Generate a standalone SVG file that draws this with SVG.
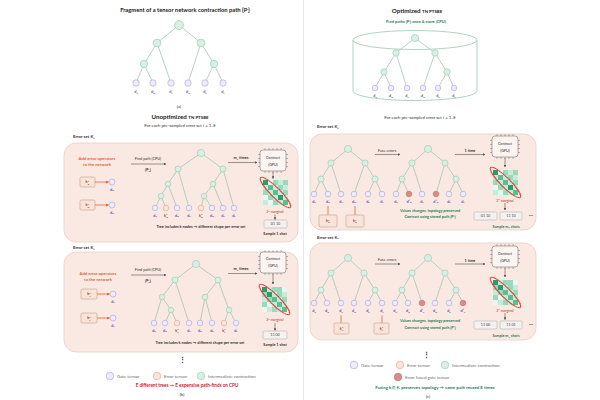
<svg xmlns="http://www.w3.org/2000/svg" xmlns:xlink="http://www.w3.org/1999/xlink" width="600" height="400" viewBox="0 0 600 400">
<style>
text{font-family:Lato,"Liberation Sans",Arial,sans-serif;}
.title{font-size:5.8px;font-weight:700;fill:#222;text-anchor:middle}
.sub{font-size:4.3px;fill:#333;text-anchor:middle}
.es{font-size:4.3px;font-weight:700;fill:#3b2a2a}
.box{fill:#f9e9e2;stroke:#e9cfc3;stroke-width:0.8}
.e{stroke:#a2c2b1;stroke-width:0.75;fill:none}
.ni{fill:#d7f0e4;stroke:#94c9ae;stroke-width:0.6}
.ng{fill:#eeecfa;stroke:#a79fdb;stroke-width:0.6}
.ne{fill:#fbe5da;stroke:#d6a38b;stroke-width:0.6}
.nf{fill:#d98c88;stroke:#c06b67;stroke-width:0.6}
.d{font-size:3.8px;font-weight:700;fill:#6152c0;text-anchor:middle}
.k{font-size:3.7px;font-weight:700;fill:#8a4a30;text-anchor:middle}
.sp{font-size:2.5px}
.or{font-size:4.2px;font-weight:700;fill:#e2662e;text-anchor:middle}
.gr{font-size:4px;font-weight:700;fill:#1f7a56;text-anchor:middle}
.rd{font-size:4.6px;font-weight:700;fill:#c3262b;text-anchor:middle}
.sm{font-size:3.8px;fill:#333;text-anchor:middle}
.smb{font-size:3.8px;font-weight:700;fill:#333;text-anchor:middle}
.lg{font-size:4.4px;fill:#6a6a6a}
.ebox{fill:#f8e4da;stroke:#c99a86;stroke-width:0.6}
.obox{fill:#f4f1ee;stroke:#a9a9a9;stroke-width:0.5}
.otx{font-size:3.7px;fill:#444;text-anchor:middle}
.arr{stroke:#555;stroke-width:0.6;fill:none;marker-end:url(#ah)}
.oarr{stroke:#e2662e;stroke-width:0.8;fill:none}
.marg{font-size:3.5px;fill:#a0442a;text-anchor:middle}
.chipt{font-size:3.7px;fill:#333;text-anchor:middle}
.c1{fill:#2f9a6b}.c2{fill:#5cbf92}.c3{fill:#9ad9bb}.c4{fill:#c6ebd8}.c5{fill:#e8f7ef}
</style>
<defs>
<marker id="ah" viewBox="0 0 6 6" refX="5" refY="3" markerUnits="userSpaceOnUse" markerWidth="2.6" markerHeight="2.6" orient="auto"><path d="M0,0L6,3L0,6z" fill="#555"/></marker>
<marker id="oah" viewBox="0 0 6 6" refX="5" refY="3" markerUnits="userSpaceOnUse" markerWidth="3" markerHeight="3" orient="auto"><path d="M0,0L6,3L0,6z" fill="#e2662e"/></marker>
<g id="chip">
<rect x="0" y="0" width="26" height="21" rx="3" fill="#fbf4f0" stroke="#777" stroke-width="0.6"/>
<path d="M5 0v-2M9 0v-2M13 0v-2M17 0v-2M21 0v-2M5 21v2M9 21v2M13 21v2M17 21v2M21 21v2M0 4.5h-2M0 8.5h-2M0 12.5h-2M0 16.5h-2M26 4.5h2M26 8.5h2M26 12.5h2M26 16.5h2" stroke="#777" stroke-width="0.5"/>
</g>
<g id="gridA">
<rect class="c1" x="0" y="0" width="5" height="5"/><rect class="c5" x="5" y="0" width="5" height="5"/><rect class="c3" x="10" y="0" width="5" height="5"/><rect class="c4" x="15" y="0" width="5" height="5"/><rect class="c3" x="20" y="0" width="5" height="5"/>
<rect class="c4" x="0" y="5" width="5" height="5"/><rect class="c2" x="5" y="5" width="5" height="5"/><rect class="c4" x="10" y="5" width="5" height="5"/><rect class="c3" x="15" y="5" width="5" height="5"/><rect class="c4" x="20" y="5" width="5" height="5"/>
<rect class="c3" x="0" y="10" width="5" height="5"/><rect class="c4" x="5" y="10" width="5" height="5"/><rect class="c2" x="10" y="10" width="5" height="5"/><rect class="c4" x="15" y="10" width="5" height="5"/><rect class="c3" x="20" y="10" width="5" height="5"/>
<rect class="c5" x="0" y="15" width="5" height="5"/><rect class="c3" x="5" y="15" width="5" height="5"/><rect class="c4" x="10" y="15" width="5" height="5"/><rect class="c1" x="15" y="15" width="5" height="5"/><rect class="c4" x="20" y="15" width="5" height="5"/>
<rect class="c4" x="0" y="20" width="5" height="5"/><rect class="c5" x="5" y="20" width="5" height="5"/><rect class="c3" x="10" y="20" width="5" height="5"/><rect class="c4" x="15" y="20" width="5" height="5"/><rect class="c2" x="20" y="20" width="5" height="5"/>
<ellipse cx="12.5" cy="12.5" rx="21" ry="4.8" transform="rotate(45 12.5 12.5)" fill="none" stroke="#e02424" stroke-width="1.1"/>
<ellipse cx="12.5" cy="12.5" rx="21" ry="4.8" transform="rotate(45 12.5 12.5)" fill="none" stroke="#fff" stroke-width="0.3" stroke-dasharray="1.5 1"/>
</g>
<g id="gridB">
<rect class="c1" x="0" y="0" width="5" height="5"/><rect class="c4" x="5" y="0" width="5" height="5"/><rect class="c3" x="10" y="0" width="5" height="5"/><rect class="c3" x="15" y="0" width="5" height="5"/><rect class="c5" x="20" y="0" width="5" height="5"/>
<rect class="c3" x="0" y="5" width="5" height="5"/><rect class="c1" x="5" y="5" width="5" height="5"/><rect class="c4" x="10" y="5" width="5" height="5"/><rect class="c3" x="15" y="5" width="5" height="5"/><rect class="c4" x="20" y="5" width="5" height="5"/>
<rect class="c4" x="0" y="10" width="5" height="5"/><rect class="c3" x="5" y="10" width="5" height="5"/><rect class="c2" x="10" y="10" width="5" height="5"/><rect class="c4" x="15" y="10" width="5" height="5"/><rect class="c3" x="20" y="10" width="5" height="5"/>
<rect class="c3" x="0" y="15" width="5" height="5"/><rect class="c5" x="5" y="15" width="5" height="5"/><rect class="c4" x="10" y="15" width="5" height="5"/><rect class="c2" x="15" y="15" width="5" height="5"/><rect class="c4" x="20" y="15" width="5" height="5"/>
<rect class="c5" x="0" y="20" width="5" height="5"/><rect class="c4" x="5" y="20" width="5" height="5"/><rect class="c3" x="10" y="20" width="5" height="5"/><rect class="c4" x="15" y="20" width="5" height="5"/><rect class="c2" x="20" y="20" width="5" height="5"/>
<ellipse cx="12.5" cy="12.5" rx="21" ry="4.8" transform="rotate(45 12.5 12.5)" fill="none" stroke="#e02424" stroke-width="1.1"/>
<ellipse cx="12.5" cy="12.5" rx="21" ry="4.8" transform="rotate(45 12.5 12.5)" fill="none" stroke="#fff" stroke-width="0.3" stroke-dasharray="1.5 1"/>
</g>
</defs>

<line x1="303.5" y1="0" x2="303.5" y2="400" stroke="#e2e2e2" stroke-width="0.8"/>

<!-- ===== (a) fragment ===== -->
<g id="panel-a">
<text class="title" x="185" y="12">Fragment of a tensor network contraction path {P<tspan class="sp" dy="-1.6">i</tspan><tspan dy="1.6">}</tspan></text>
<g id="a-edges">
<path class="e" d="M179 25L157 43M179 25L201 43M157 43L144 64M157 43L171 83M144 64L136 83M144 64L153 83M201 43L188 83M201 43L214 64M214 64L205 83M214 64L223 83"/>
</g>
<g id="a-nodes">
<circle class="ni" cx="179" cy="25" r="4.5"/><circle class="ni" cx="157" cy="43" r="3.9"/><circle class="ni" cx="201" cy="43" r="3.9"/><circle class="ni" cx="144" cy="64" r="3.7"/><circle class="ni" cx="214" cy="64" r="3.7"/>
<circle class="ng" cx="136" cy="83" r="3.2"/><circle class="ng" cx="153" cy="83" r="3.2"/><circle class="ng" cx="171" cy="83" r="3.2"/><circle class="ng" cx="188" cy="83" r="3.2"/><circle class="ng" cx="205" cy="83" r="3.2"/><circle class="ng" cx="223" cy="83" r="3.2"/>
</g>
<text class="d" x="136" y="93">d<tspan class="sp" dy="0.8">a</tspan></text>
<text class="d" x="153" y="93">d<tspan class="sp" dy="0.8">B</tspan></text>
<text class="d" x="171" y="93">d<tspan class="sp" dy="0.8">c</tspan></text>
<text class="d" x="188" y="93">d<tspan class="sp" dy="0.8">D</tspan></text>
<text class="d" x="205" y="93">d<tspan class="sp" dy="0.8">E</tspan></text>
<text class="d" x="223" y="93">d<tspan class="sp" dy="0.8">F</tspan></text>
<text class="sub" x="179" y="108">(a)</text>
</g>

<!-- ===== (b) unoptimized ===== -->
<g id="panel-b">
<text class="title" x="180" y="119" style="font-size:6.2px">Unoptimized <tspan style="font-size:4.4px">TN PTSBE</tspan></text>
<text class="sub" x="180" y="127">For each pre-sampled error set i = 1..E</text>

<!-- K1 -->
<text class="es" x="73" y="138">Error set K<tspan class="sp" dy="0.8">1</tspan></text>
<rect class="box" x="64" y="143" width="234" height="99" rx="12"/>
<text class="or" x="97" y="160">Add error operators</text>
<text class="or" x="97" y="166">to the network</text>
<g id="b1-errops">
<rect class="ebox" x="80" y="177" width="15" height="10" rx="1.5"/>
<text class="k" x="87.5" y="183.3">k<tspan class="sp" dy="-1.3">1</tspan><tspan class="sp" dx="-1.3" dy="2.6">B</tspan></text>
<line class="oarr" x1="95" y1="182" x2="108.5" y2="182" marker-end="url(#oah)"/>
<circle class="ng" cx="112" cy="182" r="3"/>
<text class="d" x="112" y="190.5">d<tspan class="sp" dy="0.8">B</tspan></text>
<rect class="ebox" x="80" y="200" width="15" height="10" rx="1.5"/>
<text class="k" x="87.5" y="206.3">k<tspan class="sp" dy="-1.3">1</tspan><tspan class="sp" dx="-1.3" dy="2.6">D</tspan></text>
<line class="oarr" x1="95" y1="205" x2="108.5" y2="205" marker-end="url(#oah)"/>
<circle class="ng" cx="112" cy="205" r="3"/>
<text class="d" x="112" y="213.5">d<tspan class="sp" dy="0.8">D</tspan></text>
</g>
<text class="sm" x="148" y="160">Find path (CPU)</text>
<line class="arr" x1="131" y1="164" x2="166" y2="164"/>
<text class="smb" x="148" y="171">{P<tspan class="sp" dy="-1.3">i</tspan><tspan class="sp" dx="-0.7" dy="2.4">1</tspan><tspan dy="-1.1">}</tspan></text>
<g id="b1-edges">
<path class="e" d="M201 153L178 169M201 153L223 169M178 169L168 184M178 169L189 208M168 184L161 196M168 184L177 208M161 196L155 208M161 196L166 208M223 169L213 184M223 169L234 208M213 184L204 196M213 184L223 208M204 196L201 208M204 196L212 208"/>
</g>
<g id="b1-nodes">
<circle class="ni" cx="201" cy="153" r="3.6"/><circle class="ni" cx="178" cy="169" r="3"/><circle class="ni" cx="223" cy="169" r="3"/><circle class="ni" cx="168" cy="184" r="2.8"/><circle class="ni" cx="213" cy="184" r="2.8"/><circle class="ni" cx="161" cy="196" r="2.8"/><circle class="ni" cx="204" cy="196" r="2.8"/>
<circle class="ng" cx="155" cy="208" r="2.8"/><circle class="ne" cx="166" cy="208" r="2.8"/><circle class="ng" cx="177" cy="208" r="2.8"/><circle class="ng" cx="189" cy="208" r="2.8"/><circle class="ne" cx="201" cy="208" r="2.8"/><circle class="ng" cx="212" cy="208" r="2.8"/><circle class="ng" cx="223" cy="208" r="2.8"/><circle class="ng" cx="234" cy="208" r="2.8"/>
</g>
<text class="d" x="155" y="216.5">d<tspan class="sp" dy="0.8">a</tspan></text>
<text class="k" x="166" y="216.5">k<tspan class="sp" dy="-1.3">1</tspan><tspan class="sp" dx="-1.3" dy="2.6">B</tspan></text>
<text class="d" x="177" y="216.5">d<tspan class="sp" dy="0.8">B</tspan></text>
<text class="d" x="189" y="216.5">d<tspan class="sp" dy="0.8">c</tspan></text>
<text class="k" x="201" y="216.5">k<tspan class="sp" dy="-1.3">1</tspan><tspan class="sp" dx="-1.3" dy="2.6">D</tspan></text>
<text class="d" x="212" y="216.5">d<tspan class="sp" dy="0.8">D</tspan></text>
<text class="d" x="223" y="216.5">d<tspan class="sp" dy="0.8">E</tspan></text>
<text class="d" x="234" y="216.5">d<tspan class="sp" dy="0.8">F</tspan></text>
<text class="smb" x="201" y="228">Tree includes k nodes → different shape per error set</text>
<text class="smb" x="241" y="159">m<tspan class="sp" dy="0.8">1</tspan><tspan dy="-0.8"> times</tspan></text>
<line class="arr" x1="228" y1="162.5" x2="257" y2="162.5"/>
<use xlink:href="#chip" href="#chip" x="260" y="150"/>
<text class="chipt" x="273" y="158.5">Contract</text>
<text class="chipt" x="273" y="165.5">(GPU)</text>
<line class="arr" x1="273" y1="172" x2="273" y2="178.5"/>
<use xlink:href="#gridA" href="#gridA" x="263" y="180"/>
<text class="marg" x="275" y="213">2<tspan class="sp" dy="-1.2">n</tspan><tspan dy="1.2"> marginal</tspan></text>
<line class="arr" x1="275" y1="214.5" x2="275" y2="219.5"/>
<rect class="obox" x="264" y="220" width="23" height="8" rx="1.2"/>
<text class="otx" x="275.5" y="225.3">01 10</text>
<text class="smb" x="275" y="234.5">Sample 1 shot</text>

<!-- K2 -->
<text class="es" x="73" y="249">Error set K<tspan class="sp" dy="0.8">2</tspan></text>
<rect class="box" x="64" y="252" width="234" height="100" rx="12"/>
<text class="or" x="98" y="275">Add error operators</text>
<text class="or" x="98" y="281">to the network</text>
<g id="b2-errops">
<rect class="ebox" x="81" y="289" width="16" height="10" rx="1.5"/>
<text class="k" x="89" y="295.3">k<tspan class="sp" dy="-1.3">2</tspan><tspan class="sp" dx="-1.3" dy="2.6">c</tspan></text>
<line class="oarr" x1="97" y1="294" x2="109.5" y2="294" marker-end="url(#oah)"/>
<circle class="ng" cx="113" cy="294" r="3"/>
<text class="d" x="113" y="302.5">d<tspan class="sp" dy="0.8">c</tspan></text>
<rect class="ebox" x="81" y="313" width="16" height="10" rx="1.5"/>
<text class="k" x="89" y="319.3">k<tspan class="sp" dy="-1.3">2</tspan><tspan class="sp" dx="-1.3" dy="2.6">F</tspan></text>
<line class="oarr" x1="97" y1="318" x2="109.5" y2="318" marker-end="url(#oah)"/>
<circle class="ng" cx="113" cy="318" r="3"/>
<text class="d" x="113" y="326.5">d<tspan class="sp" dy="0.8">F</tspan></text>
</g>
<text class="sm" x="148" y="271">Find path (CPU)</text>
<line class="arr" x1="131" y1="275" x2="166" y2="275"/>
<text class="smb" x="148" y="282">{P<tspan class="sp" dy="-1.3">i</tspan><tspan class="sp" dx="-0.7" dy="2.4">2</tspan><tspan dy="-1.1">}</tspan></text>
<g id="b2-edges">
<path class="e" d="M196 264L175 280M196 264L218 280M175 280L162 297M175 280L189 323M162 297L154 323M162 297L171 310M171 310L165 323M171 310L177 323M218 280L205 297M218 280L229 310M205 297L200 323M205 297L212 323M229 310L224 323M229 310L236 323"/>
</g>
<g id="b2-nodes">
<circle class="ni" cx="196" cy="264" r="3.6"/><circle class="ni" cx="175" cy="280" r="3"/><circle class="ni" cx="218" cy="280" r="3"/><circle class="ni" cx="162" cy="297" r="2.8"/><circle class="ni" cx="205" cy="297" r="2.8"/><circle class="ni" cx="171" cy="310" r="2.8"/><circle class="ni" cx="229" cy="310" r="2.8"/>
<circle class="ng" cx="154" cy="323" r="2.8"/><circle class="ng" cx="165" cy="323" r="2.8"/><circle class="ne" cx="177" cy="323" r="2.8"/><circle class="ng" cx="189" cy="323" r="2.8"/><circle class="ng" cx="200" cy="323" r="2.8"/><circle class="ng" cx="212" cy="323" r="2.8"/><circle class="ne" cx="224" cy="323" r="2.8"/><circle class="ng" cx="236" cy="323" r="2.8"/>
</g>
<text class="d" x="154" y="331.5">d<tspan class="sp" dy="0.8">a</tspan></text>
<text class="d" x="165" y="331.5">d<tspan class="sp" dy="0.8">B</tspan></text>
<text class="k" x="177" y="331.5">k<tspan class="sp" dy="-1.3">2</tspan><tspan class="sp" dx="-1.3" dy="2.6">c</tspan></text>
<text class="d" x="189" y="331.5">d<tspan class="sp" dy="0.8">c</tspan></text>
<text class="d" x="200" y="331.5">d<tspan class="sp" dy="0.8">D</tspan></text>
<text class="d" x="212" y="331.5">d<tspan class="sp" dy="0.8">E</tspan></text>
<text class="k" x="224" y="331.5">k<tspan class="sp" dy="-1.3">2</tspan><tspan class="sp" dx="-1.3" dy="2.6">F</tspan></text>
<text class="d" x="236" y="331.5">d<tspan class="sp" dy="0.8">F</tspan></text>
<text class="smb" x="200" y="344">Tree includes k nodes → different shape per error set</text>
<text class="smb" x="241" y="270">m<tspan class="sp" dy="0.8">2</tspan><tspan dy="-0.8"> times</tspan></text>
<line class="arr" x1="228" y1="273.5" x2="257" y2="273.5"/>
<use xlink:href="#chip" href="#chip" x="260" y="252"/>
<text class="chipt" x="273" y="260">Contract</text>
<text class="chipt" x="273" y="267">(GPU)</text>
<line class="arr" x1="273" y1="274" x2="273" y2="284"/>
<use xlink:href="#gridB" href="#gridB" x="262" y="287"/>
<text class="marg" x="275" y="321">2<tspan class="sp" dy="-1.2">n</tspan><tspan dy="1.2"> marginal</tspan></text>
<line class="arr" x1="275" y1="323" x2="275" y2="330.5"/>
<rect class="obox" x="263" y="331" width="24" height="8" rx="1.2"/>
<text class="otx" x="275" y="336.3">11 00</text>
<text class="smb" x="275" y="345.5">Sample 1 shot</text>

<text x="182" y="362" style="font-size:7px;fill:#333;text-anchor:middle;font-weight:700">⋮</text>
<g id="b-legend">
<circle class="ng" cx="110" cy="376" r="3.8"/><text class="lg" x="117" y="377.6">Gate tensor</text>
<circle class="ne" cx="157" cy="376" r="3.8"/><text class="lg" x="164" y="377.6">Error tensor</text>
<circle class="ni" cx="201" cy="376" r="3.8"/><text class="lg" x="208" y="377.6">Intermediate contraction</text>
</g>
<text class="rd" x="187" y="387">E different trees → E expensive path-finds on CPU</text>
<text class="sub" x="182" y="396">(b)</text>
</g>

<!-- ===== (c) optimized ===== -->
<g id="panel-c">
<text class="title" x="417" y="13" style="font-size:6.2px">Optimized <tspan style="font-size:4.4px">TN PTSBE</tspan></text>
<text class="gr" x="416" y="23">Find paths {P<tspan class="sp" dy="-1.3">i</tspan><tspan dy="1.3">} once &amp; store (CPU)</tspan></text>
<g id="cylinder">
<ellipse cx="415" cy="40" rx="62" ry="9.5" fill="none" stroke="#8fbfa6" stroke-width="0.7"/>
<path d="M353 40V91A62 9.5 0 0 0 477 91V40" fill="none" stroke="#8fbfa6" stroke-width="0.7"/>
</g>
<g id="c0-edges">
<path class="e" d="M415 38L396 53M415 38L435 53M396 53L384 72M396 53L407 88M384 72L375 88M384 72L391 88M435 53L423 88M435 53L447 72M447 72L438 88M447 72L454 88"/>
</g>
<g id="c0-nodes">
<circle class="ni" cx="415" cy="38" r="3.6"/><circle class="ni" cx="396" cy="53" r="3.2"/><circle class="ni" cx="435" cy="53" r="3.2"/><circle class="ni" cx="384" cy="72" r="3.2"/><circle class="ni" cx="447" cy="72" r="3.2"/>
<circle class="ng" cx="375" cy="88" r="2.8"/><circle class="ng" cx="391" cy="88" r="2.8"/><circle class="ng" cx="407" cy="88" r="2.8"/><circle class="ng" cx="423" cy="88" r="2.8"/><circle class="ng" cx="438" cy="88" r="2.8"/><circle class="ng" cx="454" cy="88" r="2.8"/>
</g>
<text class="d" x="375" y="97">d<tspan class="sp" dy="0.8">a</tspan></text>
<text class="d" x="391" y="97">d<tspan class="sp" dy="0.8">B</tspan></text>
<text class="d" x="407" y="97">d<tspan class="sp" dy="0.8">c</tspan></text>
<text class="d" x="423" y="97">d<tspan class="sp" dy="0.8">D</tspan></text>
<text class="d" x="438" y="97">d<tspan class="sp" dy="0.8">E</tspan></text>
<text class="d" x="454" y="97">d<tspan class="sp" dy="0.8">F</tspan></text>
<text class="sub" x="420" y="118.5">For each pre-sampled error set i = 1..E</text>

<!-- K1 -->
<text class="es" x="317" y="128">Error set K<tspan class="sp" dy="0.8">1</tspan></text>
<rect class="box" x="310" y="134" width="226" height="96" rx="12"/>
<g id="c1-edges">
<path class="e" d="M348 149L331 163M348 149L365 163M331 163L321 179M331 163L341 194M321 179L314 194M321 179L328 194M365 163L354 194M365 163L375 179M375 179L368 194M375 179L382 194"/>
<path class="e" d="M428 149L412 163M428 149L445 163M412 163L402 179M412 163L422 194M402 179L396 194M402 179L409 194M445 163L436 194M445 163L456 179M456 179L449 194M456 179L463 194"/>
</g>
<g id="c1-nodes">
<circle class="ni" cx="348" cy="149" r="3.6"/><circle class="ni" cx="331" cy="163" r="3.1"/><circle class="ni" cx="365" cy="163" r="3.1"/><circle class="ni" cx="321" cy="179" r="3"/><circle class="ni" cx="375" cy="179" r="3"/>
<circle class="ng" cx="314" cy="194" r="2.8"/><circle class="ng" cx="328" cy="194" r="2.8"/><circle class="ng" cx="341" cy="194" r="2.8"/><circle class="ng" cx="354" cy="194" r="2.8"/><circle class="ng" cx="368" cy="194" r="2.8"/><circle class="ng" cx="382" cy="194" r="2.8"/>
<circle class="ni" cx="428" cy="149" r="3.6"/><circle class="ni" cx="412" cy="163" r="3.1"/><circle class="ni" cx="445" cy="163" r="3.1"/><circle class="ni" cx="402" cy="179" r="3"/><circle class="ni" cx="456" cy="179" r="3"/>
<circle class="ng" cx="396" cy="194" r="2.8"/><circle class="nf" cx="409" cy="194" r="2.8"/><circle class="ng" cx="422" cy="194" r="2.8"/><circle class="nf" cx="436" cy="194" r="2.8"/><circle class="ng" cx="449" cy="194" r="2.8"/><circle class="ng" cx="463" cy="194" r="2.8"/>
</g>
<text class="d" x="314" y="202.5">d<tspan class="sp" dy="0.8">a</tspan></text>
<text class="d" x="328" y="202.5">d<tspan class="sp" dy="0.8">B</tspan></text>
<text class="d" x="341" y="202.5">d<tspan class="sp" dy="0.8">c</tspan></text>
<text class="d" x="354" y="202.5">d<tspan class="sp" dy="0.8">D</tspan></text>
<text class="d" x="368" y="202.5">d<tspan class="sp" dy="0.8">E</tspan></text>
<text class="d" x="382" y="202.5">d<tspan class="sp" dy="0.8">F</tspan></text>
<text class="d" x="396" y="202.5">d<tspan class="sp" dy="0.8">a</tspan></text>
<text class="d" x="409" y="202.5">d′<tspan class="sp" dy="0.8">B</tspan></text>
<text class="d" x="422" y="202.5">d<tspan class="sp" dy="0.8">c</tspan></text>
<text class="d" x="436" y="202.5">d′<tspan class="sp" dy="0.8">D</tspan></text>
<text class="d" x="449" y="202.5">d<tspan class="sp" dy="0.8">E</tspan></text>
<text class="d" x="463" y="202.5">d<tspan class="sp" dy="0.8">F</tspan></text>
<g id="c1-errops">
<line class="oarr" x1="328" y1="206" x2="328" y2="215"/>
<rect class="ebox" x="319" y="215" width="18" height="12" rx="1.5"/>
<text class="k" x="328" y="222">k<tspan class="sp" dy="-1.3">1</tspan><tspan class="sp" dx="-1.3" dy="2.6">B</tspan></text>
<line class="oarr" x1="355" y1="206" x2="355" y2="215"/>
<rect class="ebox" x="346" y="215" width="18" height="12" rx="1.5"/>
<text class="k" x="355" y="222">k<tspan class="sp" dy="-1.3">1</tspan><tspan class="sp" dx="-1.3" dy="2.6">D</tspan></text>
</g>
<text class="sm" x="387" y="152">Fuse errors</text>
<line class="arr" x1="375" y1="154.5" x2="400" y2="154.5"/>
<text class="gr" x="430" y="211.5" style="font-size:3.8px">Values changes, topology preserved</text>
<text class="gr" x="430" y="218" style="font-size:3.8px">Contract using stored path {P<tspan class="sp" dy="-1.3">i</tspan><tspan dy="1.3">}</tspan></text>
<text class="smb" x="470" y="152">1 time</text>
<line class="arr" x1="455" y1="154.5" x2="485" y2="154.5"/>
<use xlink:href="#chip" href="#chip" x="492" y="136"/>
<text class="chipt" x="505" y="144.5">Contract</text>
<text class="chipt" x="505" y="151.5">(GPU)</text>
<line class="arr" x1="505" y1="158" x2="505" y2="167"/>
<use xlink:href="#gridA" href="#gridA" x="493" y="170"/>
<text class="marg" x="505" y="201.5">2<tspan class="sp" dy="-1.2">n</tspan><tspan dy="1.2"> marginal</tspan></text>
<line class="arr" x1="505" y1="203" x2="505" y2="210"/>
<rect class="obox" x="474" y="212" width="23" height="8" rx="1.2"/>
<text class="otx" x="485.5" y="217.3">01 10</text>
<rect class="obox" x="500" y="212" width="22" height="8" rx="1.2"/>
<text class="otx" x="511" y="217.3">11 10</text>
<text x="531" y="217" style="font-size:5px;fill:#555;text-anchor:middle;font-weight:700">···</text>
<text class="gr" x="506" y="227.5" style="font-size:3.7px">Sample m<tspan class="sp" dy="0.8">1</tspan><tspan dy="-0.8"> shots</tspan></text>

<!-- K2 -->
<text class="es" x="317" y="238.5">Error set K<tspan class="sp" dy="0.8">2</tspan></text>
<rect class="box" x="310" y="243" width="226" height="97" rx="12"/>
<g id="c2-edges">
<path class="e" d="M348 258L331 273M348 258L364 273M331 273L321 290M331 273L341 303M321 290L314 303M321 290L327 303M364 273L354 303M364 273L375 290M375 290L368 303M375 290L382 303"/>
<path class="e" d="M428 258L412 273M428 258L445 273M412 273L402 290M412 273L422 303M402 290L395 303M402 290L408 303M445 273L435 303M445 273L456 290M456 290L449 303M456 290L463 303"/>
</g>
<g id="c2-nodes">
<circle class="ni" cx="348" cy="258" r="3.6"/><circle class="ni" cx="331" cy="273" r="3.1"/><circle class="ni" cx="364" cy="273" r="3.1"/><circle class="ni" cx="321" cy="290" r="3"/><circle class="ni" cx="375" cy="290" r="3"/>
<circle class="ng" cx="314" cy="303" r="2.8"/><circle class="ng" cx="327" cy="303" r="2.8"/><circle class="ng" cx="341" cy="303" r="2.8"/><circle class="ng" cx="354" cy="303" r="2.8"/><circle class="ng" cx="368" cy="303" r="2.8"/><circle class="ng" cx="382" cy="303" r="2.8"/>
<circle class="ni" cx="428" cy="258" r="3.6"/><circle class="ni" cx="412" cy="273" r="3.1"/><circle class="ni" cx="445" cy="273" r="3.1"/><circle class="ni" cx="402" cy="290" r="3"/><circle class="ni" cx="456" cy="290" r="3"/>
<circle class="ng" cx="395" cy="303" r="2.8"/><circle class="ng" cx="408" cy="303" r="2.8"/><circle class="nf" cx="422" cy="303" r="2.8"/><circle class="ng" cx="435" cy="303" r="2.8"/><circle class="ng" cx="449" cy="303" r="2.8"/><circle class="nf" cx="463" cy="303" r="2.8"/>
</g>
<text class="d" x="314" y="312">d<tspan class="sp" dy="0.8">a</tspan></text>
<text class="d" x="327" y="312">d<tspan class="sp" dy="0.8">B</tspan></text>
<text class="d" x="341" y="312">d<tspan class="sp" dy="0.8">c</tspan></text>
<text class="d" x="354" y="312">d<tspan class="sp" dy="0.8">D</tspan></text>
<text class="d" x="368" y="312">d<tspan class="sp" dy="0.8">E</tspan></text>
<text class="d" x="382" y="312">d<tspan class="sp" dy="0.8">F</tspan></text>
<text class="d" x="395" y="312">d<tspan class="sp" dy="0.8">a</tspan></text>
<text class="d" x="408" y="312">d<tspan class="sp" dy="0.8">B</tspan></text>
<text class="d" x="422" y="312">d′<tspan class="sp" dy="0.8">c</tspan></text>
<text class="d" x="435" y="312">d<tspan class="sp" dy="0.8">D</tspan></text>
<text class="d" x="449" y="312">d<tspan class="sp" dy="0.8">E</tspan></text>
<text class="d" x="463" y="312">d′<tspan class="sp" dy="0.8">F</tspan></text>
<g id="c2-errops">
<line class="oarr" x1="341" y1="315.5" x2="341" y2="323"/>
<rect class="ebox" x="334" y="323" width="15" height="11" rx="1.5"/>
<text class="k" x="341.5" y="329.5">k<tspan class="sp" dy="-1.3">2</tspan><tspan class="sp" dx="-1.3" dy="2.6">c</tspan></text>
<line class="oarr" x1="382" y1="315.5" x2="382" y2="323"/>
<rect class="ebox" x="374" y="323" width="15" height="11" rx="1.5"/>
<text class="k" x="381.5" y="329.5">k<tspan class="sp" dy="-1.3">2</tspan><tspan class="sp" dx="-1.3" dy="2.6">F</tspan></text>
</g>
<text class="sm" x="387" y="261">Fuse errors</text>
<line class="arr" x1="375" y1="264" x2="400" y2="264"/>
<text class="gr" x="430" y="322" style="font-size:3.8px">Values changes, topology preserved</text>
<text class="gr" x="430" y="328.5" style="font-size:3.8px">Contract using stored path {P<tspan class="sp" dy="-1.3">i</tspan><tspan dy="1.3">}</tspan></text>
<text class="smb" x="470" y="261.5">1 time</text>
<line class="arr" x1="455" y1="264" x2="485" y2="264"/>
<use xlink:href="#chip" href="#chip" x="492" y="246"/>
<text class="chipt" x="505" y="254.5">Contract</text>
<text class="chipt" x="505" y="261.5">(GPU)</text>
<line class="arr" x1="505" y1="268" x2="505" y2="277"/>
<use xlink:href="#gridB" href="#gridB" x="493" y="280"/>
<text class="marg" x="505" y="311.5">2<tspan class="sp" dy="-1.2">n</tspan><tspan dy="1.2"> marginal</tspan></text>
<line class="arr" x1="505" y1="313" x2="505" y2="319.5"/>
<rect class="obox" x="474" y="321" width="23" height="8" rx="1.2"/>
<text class="otx" x="485.5" y="326.3">11 00</text>
<rect class="obox" x="500" y="321" width="22" height="8" rx="1.2"/>
<text class="otx" x="511" y="326.3">11 01</text>
<text x="531" y="326" style="font-size:5px;fill:#555;text-anchor:middle;font-weight:700">···</text>
<text class="gr" x="506" y="337" style="font-size:3.7px">Sample m<tspan class="sp" dy="0.8">2</tspan><tspan dy="-0.8"> shots</tspan></text>

<text x="426" y="357" style="font-size:7px;fill:#333;text-anchor:middle;font-weight:700">⋮</text>
<g id="c-legend">
<circle class="ng" cx="354" cy="365" r="3.8"/><text class="lg" x="361" y="366.6">Gate tensor</text>
<circle class="ne" cx="400" cy="365" r="3.8"/><text class="lg" x="407" y="366.6">Error tensor</text>
<circle class="ni" cx="445" cy="365" r="3.8"/><text class="lg" x="452" y="366.6">Intermediate contraction</text>
<circle class="nf" cx="398" cy="377" r="3.8"/><text class="lg" x="405" y="378.6">Error fused gate tensor</text>
</g>
<text class="gr" x="435" y="388.5" style="font-size:4.4px">Fusing k ∈ K<tspan class="sp" dy="0.8">i</tspan><tspan dy="-0.8"> preserves topology → same path reused E times</tspan></text>
<text class="sub" x="428" y="398">(c)</text>
</g>
</svg>
